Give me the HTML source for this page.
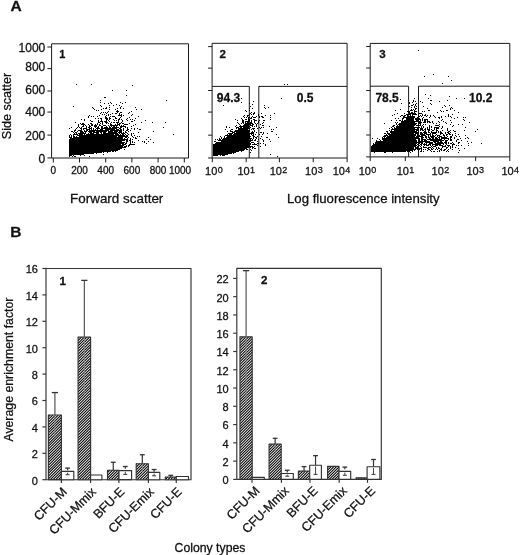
<!DOCTYPE html>
<html><head><meta charset="utf-8"><title>Figure</title>
<style>html,body{margin:0;padding:0;background:#fff;}body{width:520px;height:555px;overflow:hidden;font-family:"Liberation Sans",sans-serif;}</style>
</head><body>
<svg width="520" height="555" viewBox="0 0 520 555" style="display:block;will-change:transform;opacity:0.999"><g font-family="Liberation Sans, sans-serif" fill="#111" stroke="#111" stroke-width="0.28" stroke-linejoin="round">
<text x="10.40" y="11.20" font-size="15.5" text-anchor="start" font-weight="bold">A</text>
<text x="10.30" y="237.00" font-size="15.5" text-anchor="start" font-weight="bold">B</text>
<rect x="51.60" y="43.80" width="136.90" height="114.20" fill="none" stroke="#1a1a1a" stroke-width="1"/>
<line x1="47.40" y1="157.96" x2="51.60" y2="157.96" stroke="#1a1a1a" stroke-width="1"/>
<text x="45.30" y="162.85" font-size="12" text-anchor="end">0</text>
<line x1="47.40" y1="135.10" x2="51.60" y2="135.10" stroke="#1a1a1a" stroke-width="1"/>
<text x="45.30" y="139.65" font-size="12" text-anchor="end">200</text>
<line x1="47.40" y1="112.06" x2="51.60" y2="112.06" stroke="#1a1a1a" stroke-width="1"/>
<text x="45.30" y="116.45" font-size="12" text-anchor="end">400</text>
<line x1="47.40" y1="91.00" x2="51.60" y2="91.00" stroke="#1a1a1a" stroke-width="1"/>
<text x="45.30" y="94.35" font-size="12" text-anchor="end">600</text>
<line x1="47.40" y1="68.65" x2="51.60" y2="68.65" stroke="#1a1a1a" stroke-width="1"/>
<text x="45.30" y="71.25" font-size="12" text-anchor="end">800</text>
<line x1="47.40" y1="47.00" x2="51.60" y2="47.00" stroke="#1a1a1a" stroke-width="1"/>
<text x="45.30" y="51.65" font-size="12" text-anchor="end">1000</text>
<line x1="53.30" y1="158.00" x2="53.30" y2="162.50" stroke="#1a1a1a" stroke-width="1"/>
<text x="53.30" y="173.80" font-size="10" text-anchor="middle">0</text>
<line x1="79.50" y1="158.00" x2="79.50" y2="162.50" stroke="#1a1a1a" stroke-width="1"/>
<text x="79.50" y="173.80" font-size="10" text-anchor="middle">200</text>
<line x1="105.70" y1="158.00" x2="105.70" y2="162.50" stroke="#1a1a1a" stroke-width="1"/>
<text x="105.70" y="173.80" font-size="10" text-anchor="middle">400</text>
<line x1="131.90" y1="158.00" x2="131.90" y2="162.50" stroke="#1a1a1a" stroke-width="1"/>
<text x="131.90" y="173.80" font-size="10" text-anchor="middle">600</text>
<line x1="158.10" y1="158.00" x2="158.10" y2="162.50" stroke="#1a1a1a" stroke-width="1"/>
<text x="158.10" y="173.80" font-size="10" text-anchor="middle">800</text>
<line x1="184.30" y1="158.00" x2="184.30" y2="162.50" stroke="#1a1a1a" stroke-width="1"/>
<text x="180.00" y="173.80" font-size="10" text-anchor="middle">1000</text>
<text x="116.70" y="202.60" font-size="13" text-anchor="middle" textLength="93.3" lengthAdjust="spacingAndGlyphs">Forward scatter</text>
<text transform="translate(10.9,106) rotate(-90)" font-size="13" text-anchor="middle" textLength="66.5" lengthAdjust="spacingAndGlyphs">Side scatter</text>
<text x="59.30" y="57.80" font-size="11" text-anchor="start" font-weight="bold">1</text>
<path d="M76 84.5h1M91 84.5h1M132 85.5h1M112 90.5h1M126 90.5h1M126 95.5h1M104 97.5h2M100 100.5h1M166 100.5h1M100 102.5h1M110 102.5h1M120 102.5h1M125 102.5h1M104 103.5h1M108 103.5h1M111 103.5h1M122 103.5h1M116 104.5h1M100 105.5h1M109 105.5h1M113 105.5h1M119 105.5h1M73 106.5h1M101 106.5h1M121 106.5h1M92 107.5h1M106 107.5h1M109 107.5h1M120 107.5h1M135 107.5h1M93 108.5h1M103 108.5h1M105 108.5h2M117 108.5h1M120 108.5h1M123 108.5h1M94 109.5h1M101 109.5h1M109 109.5h1M115 109.5h1M136 109.5h1M141 109.5h1M96 110.5h1M98 110.5h1M117 110.5h1M108 111.5h1M116 111.5h3M131 111.5h1M101 112.5h1M103 112.5h1M105 112.5h1M107 112.5h1M117 112.5h1M120 112.5h2M129 112.5h1M100 113.5h1M106 113.5h1M112 113.5h1M115 113.5h2M119 113.5h1M128 113.5h1M102 114.5h1M104 114.5h1M108 114.5h1M110 114.5h1M119 114.5h1M121 114.5h1M132 114.5h1M89 115.5h1M99 115.5h1M106 115.5h1M108 115.5h1M118 115.5h4M123 115.5h1M131 115.5h1M88 116.5h1M91 116.5h1M93 116.5h1M97 116.5h1M105 116.5h1M110 116.5h1M112 116.5h3M121 116.5h1M138 116.5h1M88 117.5h1M105 117.5h2M109 117.5h1M115 117.5h1M120 117.5h1M129 117.5h1M95 118.5h1M98 118.5h1M100 118.5h2M105 118.5h3M109 118.5h2M115 118.5h2M119 118.5h1M127 118.5h1M135 118.5h1M81 119.5h1M84 119.5h1M101 119.5h1M106 119.5h2M109 119.5h1M113 119.5h1M118 119.5h2M121 119.5h1M126 119.5h1M130 119.5h1M132 119.5h1M84 120.5h1M90 120.5h1M98 120.5h1M101 120.5h1M106 120.5h1M108 120.5h1M114 120.5h1M116 120.5h1M118 120.5h1M122 120.5h1M127 120.5h1M134 120.5h1M145 120.5h1M91 121.5h2M98 121.5h1M100 121.5h3M104 121.5h3M109 121.5h1M118 121.5h1M122 121.5h1M131 121.5h2M75 122.5h1M98 122.5h2M102 122.5h1M105 122.5h3M111 122.5h1M113 122.5h2M116 122.5h3M121 122.5h1M141 122.5h1M152 122.5h1M165 122.5h1M80 123.5h1M82 123.5h2M90 123.5h2M97 123.5h1M100 123.5h1M102 123.5h1M106 123.5h1M108 123.5h1M110 123.5h1M117 123.5h1M119 123.5h2M122 123.5h2M129 123.5h1M78 124.5h1M81 124.5h4M88 124.5h1M91 124.5h2M95 124.5h1M97 124.5h1M99 124.5h1M102 124.5h1M110 124.5h2M115 124.5h1M117 124.5h3M124 124.5h4M135 124.5h1M78 125.5h1M83 125.5h1M85 125.5h1M89 125.5h1M91 125.5h2M94 125.5h3M99 125.5h2M103 125.5h3M108 125.5h1M110 125.5h8M119 125.5h1M121 125.5h1M123 125.5h1M133 125.5h1M78 126.5h1M82 126.5h2M86 126.5h1M89 126.5h2M94 126.5h3M98 126.5h1M101 126.5h2M106 126.5h1M109 126.5h1M111 126.5h1M113 126.5h2M116 126.5h1M120 126.5h6M131 126.5h1M71 127.5h1M77 127.5h1M79 127.5h1M81 127.5h1M86 127.5h1M88 127.5h2M91 127.5h1M95 127.5h1M97 127.5h2M101 127.5h2M104 127.5h4M109 127.5h2M112 127.5h7M120 127.5h2M125 127.5h1M127 127.5h1M163 127.5h1M69 128.5h1M76 128.5h1M80 128.5h2M83 128.5h4M89 128.5h3M93 128.5h1M96 128.5h4M101 128.5h16M119 128.5h2M123 128.5h1M127 128.5h1M131 128.5h1M134 128.5h1M137 128.5h1M75 129.5h1M81 129.5h1M83 129.5h1M86 129.5h4M91 129.5h1M93 129.5h1M95 129.5h1M97 129.5h1M100 129.5h3M105 129.5h10M116 129.5h3M120 129.5h2M123 129.5h1M127 129.5h2M134 129.5h1M139 129.5h2M74 130.5h2M78 130.5h4M84 130.5h1M86 130.5h2M89 130.5h20M110 130.5h12M123 130.5h1M126 130.5h2M130 130.5h1M71 131.5h2M74 131.5h1M77 131.5h1M80 131.5h3M84 131.5h3M88 131.5h7M96 131.5h11M108 131.5h5M114 131.5h4M119 131.5h3M125 131.5h1M128 131.5h1M153 131.5h1M73 132.5h1M75 132.5h2M80 132.5h4M85 132.5h1M89 132.5h3M93 132.5h6M100 132.5h2M103 132.5h3M108 132.5h9M118 132.5h4M123 132.5h1M125 132.5h2M138 132.5h1M74 133.5h1M76 133.5h1M78 133.5h8M88 133.5h1M90 133.5h4M96 133.5h3M101 133.5h1M103 133.5h15M119 133.5h1M121 133.5h4M127 133.5h1M131 133.5h1M133 133.5h1M70 134.5h1M73 134.5h5M79 134.5h4M84 134.5h1M86 134.5h28M115 134.5h4M120 134.5h1M122 134.5h2M125 134.5h1M128 134.5h1M131 134.5h1M173 134.5h1M69 135.5h1M71 135.5h1M73 135.5h1M77 135.5h48M126 135.5h2M131 135.5h1M134 135.5h1M69 136.5h1M71 136.5h1M73 136.5h2M76 136.5h1M79 136.5h38M118 136.5h10M132 136.5h1M137 136.5h1M139 136.5h1M69 137.5h3M73 137.5h50M125 137.5h2M128 137.5h1M133 137.5h1M135 137.5h1M148 137.5h1M70 138.5h53M124 138.5h1M127 138.5h1M130 138.5h1M135 138.5h2M69 139.5h59M130 139.5h1M132 139.5h1M146 139.5h1M150 139.5h1M69 140.5h56M126 140.5h2M129 140.5h2M138 140.5h1M69 141.5h53M126 141.5h2M130 141.5h1M132 141.5h1M142 141.5h1M144 141.5h1M148 141.5h1M69 142.5h56M126 142.5h1M130 142.5h1M132 142.5h1M134 142.5h1M144 142.5h1M153 142.5h1M69 143.5h55M125 143.5h2M130 143.5h1M146 143.5h1M69 144.5h52M122 144.5h4M129 144.5h6M69 145.5h55M126 145.5h1M128 145.5h2M69 146.5h54M124 146.5h3M128 146.5h1M69 147.5h57M69 148.5h53M69 149.5h51M124 149.5h1M69 150.5h49M69 151.5h42M112 151.5h2M115 151.5h1M69 152.5h33M103 152.5h1M107 152.5h1M69 153.5h25M96 153.5h1M69 154.5h15M103 154.5h1M69 155.5h3M73 155.5h1M80 155.5h1M84 155.5h1M69 156.5h1M72 156.5h1M74 156.5h2M89 156.5h1" stroke="#000" stroke-width="1" fill="none"/>
<rect x="212.10" y="43.30" width="135.00" height="114.70" fill="none" stroke="#1a1a1a" stroke-width="1"/>
<line x1="208.10" y1="46.60" x2="212.10" y2="46.60" stroke="#1a1a1a" stroke-width="1"/>
<line x1="208.10" y1="68.15" x2="212.10" y2="68.15" stroke="#1a1a1a" stroke-width="1"/>
<line x1="208.10" y1="90.50" x2="212.10" y2="90.50" stroke="#1a1a1a" stroke-width="1"/>
<line x1="208.10" y1="112.07" x2="212.10" y2="112.07" stroke="#1a1a1a" stroke-width="1"/>
<line x1="208.10" y1="135.16" x2="212.10" y2="135.16" stroke="#1a1a1a" stroke-width="1"/>
<line x1="208.10" y1="158.00" x2="212.10" y2="158.00" stroke="#1a1a1a" stroke-width="1"/>
<line x1="212.30" y1="158.00" x2="212.30" y2="162.20" stroke="#1a1a1a" stroke-width="1"/>
<text x="205.10" y="175.2" font-size="11">10<tspan font-size="9" dx="0.3" dy="-2.5">0</tspan></text>
<line x1="246.20" y1="158.00" x2="246.20" y2="162.20" stroke="#1a1a1a" stroke-width="1"/>
<text x="237.40" y="175.2" font-size="11">10<tspan font-size="9" dx="0.3" dy="-2.5">1</tspan></text>
<line x1="279.40" y1="158.00" x2="279.40" y2="162.20" stroke="#1a1a1a" stroke-width="1"/>
<text x="269.70" y="175.2" font-size="11">10<tspan font-size="9" dx="0.3" dy="-2.5">2</tspan></text>
<line x1="313.20" y1="158.00" x2="313.20" y2="162.20" stroke="#1a1a1a" stroke-width="1"/>
<text x="305.10" y="175.2" font-size="11">10<tspan font-size="9" dx="0.3" dy="-2.5">3</tspan></text>
<line x1="347.10" y1="158.00" x2="347.10" y2="162.20" stroke="#1a1a1a" stroke-width="1"/>
<text x="332.70" y="175.2" font-size="11">10<tspan font-size="9" dx="0.3" dy="-2.5">4</tspan></text>
<path d="M212.10 86.40H249.30V158.00" fill="none" stroke="#1a1a1a" stroke-width="1"/>
<path d="M258.80 158.00V86.40H347.10" fill="none" stroke="#1a1a1a" stroke-width="1"/>
<text x="219.60" y="57.90" font-size="11.5" text-anchor="start" font-weight="bold">2</text>
<text x="216.80" y="101.50" font-size="12" text-anchor="start" font-weight="bold">94.3</text>
<text x="296.80" y="101.50" font-size="12" text-anchor="start" font-weight="bold">0.5</text>
<rect x="370.20" y="43.40" width="139.60" height="113.50" fill="none" stroke="#1a1a1a" stroke-width="1"/>
<line x1="366.20" y1="46.50" x2="370.20" y2="46.50" stroke="#1a1a1a" stroke-width="1"/>
<line x1="366.20" y1="68.00" x2="370.20" y2="68.00" stroke="#1a1a1a" stroke-width="1"/>
<line x1="366.20" y1="90.50" x2="370.20" y2="90.50" stroke="#1a1a1a" stroke-width="1"/>
<line x1="366.20" y1="111.80" x2="370.20" y2="111.80" stroke="#1a1a1a" stroke-width="1"/>
<line x1="366.20" y1="135.00" x2="370.20" y2="135.00" stroke="#1a1a1a" stroke-width="1"/>
<line x1="366.20" y1="156.90" x2="370.20" y2="156.90" stroke="#1a1a1a" stroke-width="1"/>
<line x1="370.20" y1="156.90" x2="370.20" y2="161.10" stroke="#1a1a1a" stroke-width="1"/>
<text x="358.70" y="175.2" font-size="11">10<tspan font-size="9" dx="0.3" dy="-2.5">0</tspan></text>
<line x1="405.30" y1="156.90" x2="405.30" y2="161.10" stroke="#1a1a1a" stroke-width="1"/>
<text x="396.70" y="175.2" font-size="11">10<tspan font-size="9" dx="0.3" dy="-2.5">1</tspan></text>
<line x1="440.20" y1="156.90" x2="440.20" y2="161.10" stroke="#1a1a1a" stroke-width="1"/>
<text x="431.60" y="175.2" font-size="11">10<tspan font-size="9" dx="0.3" dy="-2.5">2</tspan></text>
<line x1="475.60" y1="156.90" x2="475.60" y2="161.10" stroke="#1a1a1a" stroke-width="1"/>
<text x="466.50" y="175.2" font-size="11">10<tspan font-size="9" dx="0.3" dy="-2.5">3</tspan></text>
<line x1="509.80" y1="156.90" x2="509.80" y2="161.10" stroke="#1a1a1a" stroke-width="1"/>
<text x="501.40" y="175.2" font-size="11">10<tspan font-size="9" dx="0.3" dy="-2.5">4</tspan></text>
<path d="M370.20 86.20H408.60V156.90" fill="none" stroke="#1a1a1a" stroke-width="1"/>
<path d="M418.50 156.90V86.20H509.80" fill="none" stroke="#1a1a1a" stroke-width="1"/>
<text x="379.30" y="57.90" font-size="11.5" text-anchor="start" font-weight="bold">3</text>
<text x="375.40" y="101.50" font-size="12" text-anchor="start" font-weight="bold">78.5</text>
<text x="469.00" y="101.50" font-size="12" text-anchor="start" font-weight="bold">10.2</text>
<text x="363.30" y="202.70" font-size="13" text-anchor="middle" textLength="152.6" lengthAdjust="spacingAndGlyphs">Log fluorescence intensity</text>
<path d="M284 84.5h1M287 84.5h1M259 86.5h1M238 98.5h1M241 98.5h1M281 98.5h1M253 101.5h1M241 102.5h1M249 103.5h1M252 104.5h1M223 105.5h1M264 105.5h1M250 106.5h1M264 107.5h1M268 107.5h1M249 108.5h1M252 108.5h1M265 108.5h1M245 110.5h1M249 110.5h1M246 111.5h1M251 112.5h1M254 112.5h1M250 113.5h1M253 113.5h2M261 113.5h1M274 113.5h1M249 114.5h1M251 114.5h1M253 114.5h1M258 114.5h1M244 115.5h1M247 115.5h2M258 115.5h1M265 115.5h1M270 115.5h1M243 116.5h1M247 116.5h1M252 116.5h1M256 116.5h1M259 116.5h1M261 116.5h2M244 117.5h1M246 117.5h1M248 117.5h2M251 117.5h1M253 117.5h3M259 117.5h1M262 117.5h2M270 117.5h1M241 118.5h1M248 118.5h1M250 118.5h2M235 119.5h1M242 119.5h1M245 119.5h2M248 119.5h2M253 119.5h2M270 119.5h1M237 120.5h1M242 120.5h2M248 120.5h2M251 120.5h1M254 120.5h3M259 120.5h1M263 120.5h2M242 121.5h2M245 121.5h5M251 121.5h1M254 121.5h1M258 121.5h1M237 122.5h1M242 122.5h2M245 122.5h1M247 122.5h2M250 122.5h2M254 122.5h1M258 122.5h1M263 122.5h1M238 123.5h1M241 123.5h1M243 123.5h1M245 123.5h8M255 123.5h1M257 123.5h1M262 123.5h1M239 124.5h1M244 124.5h7M252 124.5h2M256 124.5h1M260 124.5h1M236 125.5h1M240 125.5h1M243 125.5h6M250 125.5h3M256 125.5h1M262 125.5h2M226 126.5h1M235 126.5h1M239 126.5h11M252 126.5h1M254 126.5h1M256 126.5h1M269 126.5h1M226 127.5h1M229 127.5h1M236 127.5h3M240 127.5h2M243 127.5h6M250 127.5h1M259 127.5h1M261 127.5h1M263 127.5h1M276 127.5h1M236 128.5h1M238 128.5h12M252 128.5h3M257 128.5h1M260 128.5h1M225 129.5h1M231 129.5h2M238 129.5h10M251 129.5h1M253 129.5h1M271 129.5h1M273 129.5h1M230 130.5h1M235 130.5h15M254 130.5h1M227 131.5h1M230 131.5h3M234 131.5h16M252 131.5h1M254 131.5h1M271 131.5h2M232 132.5h3M236 132.5h13M251 132.5h3M256 132.5h1M260 132.5h2M263 132.5h1M228 133.5h5M234 133.5h20M263 133.5h1M267 133.5h1M227 134.5h1M229 134.5h3M233 134.5h17M251 134.5h1M253 134.5h1M255 134.5h1M259 134.5h1M262 134.5h1M276 134.5h1M225 135.5h25M252 135.5h2M220 136.5h1M224 136.5h1M227 136.5h24M253 136.5h2M257 136.5h1M261 136.5h1M221 137.5h1M224 137.5h1M226 137.5h24M253 137.5h1M255 137.5h2M266 137.5h2M278 137.5h1M219 138.5h1M221 138.5h1M223 138.5h29M253 138.5h1M256 138.5h1M260 138.5h1M215 139.5h1M217 139.5h1M219 139.5h2M222 139.5h27M250 139.5h1M252 139.5h1M255 139.5h1M258 139.5h1M262 139.5h1M269 139.5h1M218 140.5h35M254 140.5h2M263 140.5h1M214 141.5h2M221 141.5h30M257 141.5h1M263 141.5h1M270 141.5h1M216 142.5h34M251 142.5h3M215 143.5h36M254 143.5h1M257 143.5h2M260 143.5h1M263 143.5h1M213 144.5h38M252 144.5h5M265 144.5h1M213 145.5h37M257 145.5h1M265 145.5h1M213 146.5h40M254 146.5h1M260 146.5h1M213 147.5h36M250 147.5h1M252 147.5h2M213 148.5h34M252 148.5h1M254 148.5h2M213 149.5h32M246 149.5h2M250 149.5h1M213 150.5h31M251 150.5h1M213 151.5h26M241 151.5h1M213 152.5h23M250 152.5h1M213 153.5h19M233 153.5h1M213 154.5h15M270 154.5h1M213 155.5h5M220 155.5h1M222 155.5h3M277 156.5h1" stroke="#000" stroke-width="1" fill="none"/>
<path d="M418 50.5h1M433 74.5h1M424 76.5h1M448 76.5h1M451 80.5h1M442 83.5h1M425 94.5h1M430 95.5h1M449 96.5h1M414 98.5h1M428 98.5h1M456 98.5h1M464 98.5h1M400 99.5h1M408 100.5h1M413 100.5h1M430 100.5h2M447 100.5h1M413 101.5h1M415 101.5h1M420 101.5h1M439 101.5h1M409 102.5h1M412 102.5h1M422 102.5h1M401 103.5h1M409 103.5h1M416 103.5h1M430 103.5h1M413 104.5h1M415 104.5h1M431 104.5h1M411 105.5h2M415 105.5h1M444 105.5h1M449 105.5h1M409 106.5h1M414 106.5h1M416 106.5h1M423 106.5h1M445 106.5h1M411 107.5h1M414 107.5h1M442 107.5h1M451 107.5h1M415 108.5h2M427 108.5h1M450 108.5h1M452 108.5h1M400 109.5h1M411 109.5h1M413 109.5h1M415 109.5h1M450 109.5h1M395 110.5h1M410 110.5h3M414 110.5h1M428 110.5h2M440 110.5h1M446 110.5h2M454 110.5h1M407 111.5h3M414 111.5h3M422 111.5h1M424 111.5h1M441 111.5h1M443 111.5h1M408 112.5h2M411 112.5h2M414 112.5h1M437 112.5h1M458 112.5h1M397 113.5h1M404 113.5h1M409 113.5h7M419 113.5h3M394 114.5h1M406 114.5h5M412 114.5h5M422 114.5h1M425 114.5h1M448 114.5h1M452 114.5h1M392 115.5h1M401 115.5h2M404 115.5h2M407 115.5h1M410 115.5h1M412 115.5h1M418 115.5h1M420 115.5h1M422 115.5h1M424 115.5h2M427 115.5h1M430 115.5h1M433 115.5h1M448 115.5h1M400 116.5h1M403 116.5h2M407 116.5h8M418 116.5h2M421 116.5h1M426 116.5h1M430 116.5h1M434 116.5h1M441 116.5h1M445 116.5h1M448 116.5h1M450 116.5h1M403 117.5h12M417 117.5h1M423 117.5h1M429 117.5h1M435 117.5h1M438 117.5h2M441 117.5h1M451 117.5h1M457 117.5h1M463 117.5h1M465 117.5h1M395 118.5h1M398 118.5h1M402 118.5h2M406 118.5h8M415 118.5h5M422 118.5h1M439 118.5h1M454 118.5h1M402 119.5h1M406 119.5h8M415 119.5h6M422 119.5h1M424 119.5h4M442 119.5h1M463 119.5h1M391 120.5h1M396 120.5h1M399 120.5h2M402 120.5h1M404 120.5h10M416 120.5h2M420 120.5h1M422 120.5h1M424 120.5h2M427 120.5h1M441 120.5h1M450 120.5h1M464 120.5h1M401 121.5h20M424 121.5h2M427 121.5h3M432 121.5h1M438 121.5h1M443 121.5h1M395 122.5h1M397 122.5h1M401 122.5h14M418 122.5h4M423 122.5h3M427 122.5h1M429 122.5h2M432 122.5h1M439 122.5h1M445 122.5h1M451 122.5h1M469 122.5h1M384 123.5h1M396 123.5h1M399 123.5h18M419 123.5h2M433 123.5h1M436 123.5h1M446 123.5h1M396 124.5h1M398 124.5h18M418 124.5h1M420 124.5h1M423 124.5h1M425 124.5h1M439 124.5h1M450 124.5h1M458 124.5h1M462 124.5h1M393 125.5h2M397 125.5h1M399 125.5h16M416 125.5h5M422 125.5h1M429 125.5h1M435 125.5h4M453 125.5h1M392 126.5h2M396 126.5h18M421 126.5h1M423 126.5h1M429 126.5h1M431 126.5h1M439 126.5h1M442 126.5h1M452 126.5h1M391 127.5h1M394 127.5h1M396 127.5h24M421 127.5h1M423 127.5h1M427 127.5h1M429 127.5h1M431 127.5h1M434 127.5h5M442 127.5h1M465 127.5h1M389 128.5h1M392 128.5h1M394 128.5h21M417 128.5h2M420 128.5h3M425 128.5h1M427 128.5h1M429 128.5h1M434 128.5h1M436 128.5h3M441 128.5h1M447 128.5h1M391 129.5h28M420 129.5h3M424 129.5h2M427 129.5h3M431 129.5h1M434 129.5h1M436 129.5h1M447 129.5h1M477 129.5h1M389 130.5h1M391 130.5h1M394 130.5h21M416 130.5h3M420 130.5h1M422 130.5h2M425 130.5h1M428 130.5h2M432 130.5h2M436 130.5h2M442 130.5h1M447 130.5h1M450 130.5h1M453 130.5h1M464 130.5h1M386 131.5h2M390 131.5h27M418 131.5h1M424 131.5h2M428 131.5h1M431 131.5h1M436 131.5h1M438 131.5h1M440 131.5h1M448 131.5h2M454 131.5h2M475 131.5h1M387 132.5h1M390 132.5h29M420 132.5h2M423 132.5h4M428 132.5h2M431 132.5h6M438 132.5h1M440 132.5h2M445 132.5h1M447 132.5h2M450 132.5h1M384 133.5h2M387 133.5h3M391 133.5h23M415 133.5h3M420 133.5h3M424 133.5h3M430 133.5h1M432 133.5h4M440 133.5h3M445 133.5h1M448 133.5h2M455 133.5h1M386 134.5h1M388 134.5h28M417 134.5h1M420 134.5h5M426 134.5h5M432 134.5h1M436 134.5h1M440 134.5h1M443 134.5h1M446 134.5h2M449 134.5h2M452 134.5h1M458 134.5h1M384 135.5h4M389 135.5h27M417 135.5h3M421 135.5h5M428 135.5h1M430 135.5h1M432 135.5h2M435 135.5h1M437 135.5h3M443 135.5h2M446 135.5h1M452 135.5h1M455 135.5h1M465 135.5h1M383 136.5h3M387 136.5h28M416 136.5h7M425 136.5h2M428 136.5h1M430 136.5h5M437 136.5h1M439 136.5h3M444 136.5h1M447 136.5h1M450 136.5h2M456 136.5h1M459 136.5h1M382 137.5h1M384 137.5h1M386 137.5h33M421 137.5h3M425 137.5h2M428 137.5h2M431 137.5h3M435 137.5h2M438 137.5h2M441 137.5h6M450 137.5h2M454 137.5h1M467 137.5h1M372 138.5h1M377 138.5h1M382 138.5h38M421 138.5h2M426 138.5h1M429 138.5h2M432 138.5h2M435 138.5h3M439 138.5h1M441 138.5h8M450 138.5h1M454 138.5h1M460 138.5h1M465 138.5h1M468 138.5h1M379 139.5h1M382 139.5h34M418 139.5h2M421 139.5h5M427 139.5h15M444 139.5h1M448 139.5h1M450 139.5h2M457 139.5h2M376 140.5h1M380 140.5h1M383 140.5h34M418 140.5h2M421 140.5h2M424 140.5h3M430 140.5h14M445 140.5h3M450 140.5h2M456 140.5h1M461 140.5h1M376 141.5h41M418 141.5h12M433 141.5h6M440 141.5h2M445 141.5h2M456 141.5h1M467 141.5h1M375 142.5h48M425 142.5h8M434 142.5h2M437 142.5h6M444 142.5h3M448 142.5h1M452 142.5h1M458 142.5h2M471 142.5h1M373 143.5h1M375 143.5h42M418 143.5h2M421 143.5h2M424 143.5h1M426 143.5h1M429 143.5h4M435 143.5h9M445 143.5h2M448 143.5h1M450 143.5h2M453 143.5h1M458 143.5h1M468 143.5h1M481 143.5h1M373 144.5h43M417 144.5h2M420 144.5h2M423 144.5h4M428 144.5h3M432 144.5h9M443 144.5h1M446 144.5h1M452 144.5h3M372 145.5h45M418 145.5h2M421 145.5h1M424 145.5h1M426 145.5h3M430 145.5h1M432 145.5h1M435 145.5h3M439 145.5h4M445 145.5h1M447 145.5h3M452 145.5h1M456 145.5h1M458 145.5h1M461 145.5h1M468 145.5h1M371 146.5h45M417 146.5h2M420 146.5h1M423 146.5h1M431 146.5h1M433 146.5h3M442 146.5h4M448 146.5h1M450 146.5h1M452 146.5h1M371 147.5h43M415 147.5h3M421 147.5h1M423 147.5h4M428 147.5h3M432 147.5h1M436 147.5h1M438 147.5h1M442 147.5h1M446 147.5h2M450 147.5h1M452 147.5h1M455 147.5h1M371 148.5h43M415 148.5h3M419 148.5h3M427 148.5h2M431 148.5h1M433 148.5h1M436 148.5h1M438 148.5h2M441 148.5h1M446 148.5h1M450 148.5h1M458 148.5h1M464 148.5h1M371 149.5h45M417 149.5h1M419 149.5h1M421 149.5h1M423 149.5h1M425 149.5h1M428 149.5h2M431 149.5h2M435 149.5h1M437 149.5h1M440 149.5h2M444 149.5h2M448 149.5h1M452 149.5h1M371 150.5h42M414 150.5h1M418 150.5h1M421 150.5h1M427 150.5h1M430 150.5h1M439 150.5h1M441 150.5h1M443 150.5h2M447 150.5h1M459 150.5h1M371 151.5h35M407 151.5h3M412 151.5h1M420 151.5h2M423 151.5h1M431 151.5h1M433 151.5h2M437 151.5h1M439 151.5h1M446 151.5h1M448 151.5h1M374 152.5h1M384 152.5h2M392 152.5h1M410 152.5h1M458 152.5h1" stroke="#000" stroke-width="1" fill="none"/>
<defs><pattern id="h" patternUnits="userSpaceOnUse" width="1.9" height="1.9" patternTransform="rotate(-45)"><rect x="0" y="0" width="1.9" height="1.0" fill="#000" shape-rendering="crispEdges"/></pattern></defs>
<rect x="46.00" y="268.50" width="145.00" height="211.20" fill="none" stroke="#333" stroke-width="1.15"/>
<line x1="42.40" y1="479.70" x2="46.00" y2="479.70" stroke="#333" stroke-width="1.15"/>
<text x="37.90" y="484.60" font-size="11" text-anchor="end">0</text>
<line x1="42.40" y1="453.30" x2="46.00" y2="453.30" stroke="#333" stroke-width="1.15"/>
<text x="37.90" y="458.20" font-size="11" text-anchor="end">2</text>
<line x1="42.40" y1="426.90" x2="46.00" y2="426.90" stroke="#333" stroke-width="1.15"/>
<text x="37.90" y="431.80" font-size="11" text-anchor="end">4</text>
<line x1="42.40" y1="400.50" x2="46.00" y2="400.50" stroke="#333" stroke-width="1.15"/>
<text x="37.90" y="405.40" font-size="11" text-anchor="end">6</text>
<line x1="42.40" y1="374.10" x2="46.00" y2="374.10" stroke="#333" stroke-width="1.15"/>
<text x="37.90" y="379.00" font-size="11" text-anchor="end">8</text>
<line x1="42.40" y1="347.70" x2="46.00" y2="347.70" stroke="#333" stroke-width="1.15"/>
<text x="37.90" y="352.60" font-size="11" text-anchor="end">10</text>
<line x1="42.40" y1="321.30" x2="46.00" y2="321.30" stroke="#333" stroke-width="1.15"/>
<text x="37.90" y="326.20" font-size="11" text-anchor="end">12</text>
<line x1="42.40" y1="294.90" x2="46.00" y2="294.90" stroke="#333" stroke-width="1.15"/>
<text x="37.90" y="299.80" font-size="11" text-anchor="end">14</text>
<line x1="42.40" y1="268.50" x2="46.00" y2="268.50" stroke="#333" stroke-width="1.15"/>
<text x="37.90" y="273.40" font-size="11" text-anchor="end">16</text>
<line x1="61.40" y1="479.70" x2="61.40" y2="483.10" stroke="#333" stroke-width="1.15"/>
<line x1="90.60" y1="479.70" x2="90.60" y2="483.10" stroke="#333" stroke-width="1.15"/>
<line x1="118.90" y1="479.70" x2="118.90" y2="483.10" stroke="#333" stroke-width="1.15"/>
<line x1="148.40" y1="479.70" x2="148.40" y2="483.10" stroke="#333" stroke-width="1.15"/>
<line x1="176.25" y1="479.70" x2="176.25" y2="483.10" stroke="#333" stroke-width="1.15"/>
<text x="59.60" y="284.70" font-size="11.5" text-anchor="start" font-weight="bold">1</text>
<rect x="48.40" y="415.02" width="13.00" height="64.68" fill="#fff" stroke="none"/>
<path d="M48.40 416.78L50.16 415.02M48.40 419.48L52.86 415.02M48.40 422.18L55.56 415.02M48.40 424.88L58.26 415.02M48.40 427.58L60.96 415.02M48.40 430.28L61.40 417.28M48.40 432.98L61.40 419.98M48.40 435.68L61.40 422.68M48.40 438.38L61.40 425.38M48.40 441.08L61.40 428.08M48.40 443.78L61.40 430.78M48.40 446.48L61.40 433.48M48.40 449.18L61.40 436.18M48.40 451.88L61.40 438.88M48.40 454.58L61.40 441.58M48.40 457.28L61.40 444.28M48.40 459.98L61.40 446.98M48.40 462.68L61.40 449.68M48.40 465.38L61.40 452.38M48.40 468.08L61.40 455.08M48.40 470.78L61.40 457.78M48.40 473.48L61.40 460.48M48.40 476.18L61.40 463.18M48.40 478.88L61.40 465.88M50.28 479.70L61.40 468.58M52.98 479.70L61.40 471.28M55.68 479.70L61.40 473.98M58.38 479.70L61.40 476.68M61.08 479.70L61.40 479.38" stroke="#000" stroke-width="1.05" fill="none"/>
<rect x="48.40" y="415.02" width="13.00" height="64.68" fill="none" stroke="#333" stroke-width="1.15"/>
<line x1="54.90" y1="415.02" x2="54.90" y2="392.58" stroke="#555" stroke-width="1.2"/>
<line x1="51.80" y1="392.58" x2="58.00" y2="392.58" stroke="#333" stroke-width="1.3"/>
<line x1="54.90" y1="415.02" x2="54.90" y2="437.46" stroke="#888" stroke-width="0.9"/>
<rect x="61.40" y="471.38" width="12.40" height="8.32" fill="#fff" stroke="none"/>
<rect x="61.40" y="471.38" width="12.40" height="8.32" fill="none" stroke="#333" stroke-width="1.15"/>
<line x1="67.60" y1="470.28" x2="67.60" y2="468.08" stroke="#333" stroke-width="1.2"/>
<line x1="65.20" y1="468.08" x2="70.00" y2="468.08" stroke="#333" stroke-width="1.3"/>
<line x1="67.60" y1="472.58" x2="67.60" y2="474.68" stroke="#444" stroke-width="1.0"/>
<line x1="65.60" y1="474.68" x2="69.60" y2="474.68" stroke="#444" stroke-width="1.1"/>
<rect x="78.10" y="337.14" width="12.50" height="142.56" fill="#fff" stroke="none"/>
<path d="M78.10 337.86L78.82 337.14M78.10 340.56L81.52 337.14M78.10 343.26L84.22 337.14M78.10 345.96L86.92 337.14M78.10 348.66L89.62 337.14M78.10 351.36L90.60 338.86M78.10 354.06L90.60 341.56M78.10 356.76L90.60 344.26M78.10 359.46L90.60 346.96M78.10 362.16L90.60 349.66M78.10 364.86L90.60 352.36M78.10 367.56L90.60 355.06M78.10 370.26L90.60 357.76M78.10 372.96L90.60 360.46M78.10 375.66L90.60 363.16M78.10 378.36L90.60 365.86M78.10 381.06L90.60 368.56M78.10 383.76L90.60 371.26M78.10 386.46L90.60 373.96M78.10 389.16L90.60 376.66M78.10 391.86L90.60 379.36M78.10 394.56L90.60 382.06M78.10 397.26L90.60 384.76M78.10 399.96L90.60 387.46M78.10 402.66L90.60 390.16M78.10 405.36L90.60 392.86M78.10 408.06L90.60 395.56M78.10 410.76L90.60 398.26M78.10 413.46L90.60 400.96M78.10 416.16L90.60 403.66M78.10 418.86L90.60 406.36M78.10 421.56L90.60 409.06M78.10 424.26L90.60 411.76M78.10 426.96L90.60 414.46M78.10 429.66L90.60 417.16M78.10 432.36L90.60 419.86M78.10 435.06L90.60 422.56M78.10 437.76L90.60 425.26M78.10 440.46L90.60 427.96M78.10 443.16L90.60 430.66M78.10 445.86L90.60 433.36M78.10 448.56L90.60 436.06M78.10 451.26L90.60 438.76M78.10 453.96L90.60 441.46M78.10 456.66L90.60 444.16M78.10 459.36L90.60 446.86M78.10 462.06L90.60 449.56M78.10 464.76L90.60 452.26M78.10 467.46L90.60 454.96M78.10 470.16L90.60 457.66M78.10 472.86L90.60 460.36M78.10 475.56L90.60 463.06M78.10 478.26L90.60 465.76M79.36 479.70L90.60 468.46M82.06 479.70L90.60 471.16M84.76 479.70L90.60 473.86M87.46 479.70L90.60 476.56M90.16 479.70L90.60 479.26" stroke="#000" stroke-width="1.05" fill="none"/>
<rect x="78.10" y="337.14" width="12.50" height="142.56" fill="none" stroke="#333" stroke-width="1.15"/>
<line x1="84.35" y1="337.14" x2="84.35" y2="280.38" stroke="#555" stroke-width="1.2"/>
<line x1="81.25" y1="280.38" x2="87.45" y2="280.38" stroke="#333" stroke-width="1.3"/>
<line x1="84.35" y1="337.14" x2="84.35" y2="393.90" stroke="#888" stroke-width="0.9"/>
<rect x="90.60" y="474.95" width="11.30" height="4.75" fill="#fff" stroke="none"/>
<rect x="90.60" y="474.95" width="11.30" height="4.75" fill="none" stroke="#333" stroke-width="1.15"/>
<rect x="107.50" y="470.20" width="11.50" height="9.50" fill="#fff" stroke="none"/>
<path d="M107.50 472.64L109.94 470.20M107.50 475.34L112.64 470.20M107.50 478.04L115.34 470.20M108.54 479.70L118.04 470.20M111.24 479.70L119.00 471.94M113.94 479.70L119.00 474.64M116.64 479.70L119.00 477.34" stroke="#000" stroke-width="1.05" fill="none"/>
<rect x="107.50" y="470.20" width="11.50" height="9.50" fill="none" stroke="#333" stroke-width="1.15"/>
<line x1="113.25" y1="470.20" x2="113.25" y2="462.28" stroke="#333" stroke-width="1.2"/>
<line x1="110.85" y1="462.28" x2="115.65" y2="462.28" stroke="#333" stroke-width="1.3"/>
<rect x="119.00" y="470.59" width="12.60" height="9.11" fill="#fff" stroke="none"/>
<rect x="119.00" y="470.59" width="12.60" height="9.11" fill="none" stroke="#333" stroke-width="1.15"/>
<line x1="125.30" y1="468.70" x2="125.30" y2="466.50" stroke="#333" stroke-width="1.2"/>
<line x1="122.90" y1="466.50" x2="127.70" y2="466.50" stroke="#333" stroke-width="1.3"/>
<line x1="125.30" y1="471.79" x2="125.30" y2="474.42" stroke="#444" stroke-width="1.0"/>
<line x1="123.30" y1="474.42" x2="127.30" y2="474.42" stroke="#444" stroke-width="1.1"/>
<rect x="136.20" y="463.73" width="12.20" height="15.97" fill="#fff" stroke="none"/>
<path d="M136.20 464.44L136.91 463.73M136.20 467.14L139.61 463.73M136.20 469.84L142.31 463.73M136.20 472.54L145.01 463.73M136.20 475.24L147.71 463.73M136.20 477.94L148.40 465.74M137.14 479.70L148.40 468.44M139.84 479.70L148.40 471.14M142.54 479.70L148.40 473.84M145.24 479.70L148.40 476.54M147.94 479.70L148.40 479.24" stroke="#000" stroke-width="1.05" fill="none"/>
<rect x="136.20" y="463.73" width="12.20" height="15.97" fill="none" stroke="#333" stroke-width="1.15"/>
<line x1="142.30" y1="463.73" x2="142.30" y2="454.75" stroke="#333" stroke-width="1.2"/>
<line x1="139.90" y1="454.75" x2="144.70" y2="454.75" stroke="#333" stroke-width="1.3"/>
<line x1="142.30" y1="463.73" x2="142.30" y2="471.78" stroke="#888" stroke-width="0.9"/>
<rect x="148.40" y="472.44" width="11.40" height="7.26" fill="#fff" stroke="none"/>
<rect x="148.40" y="472.44" width="11.40" height="7.26" fill="none" stroke="#333" stroke-width="1.15"/>
<line x1="154.10" y1="471.74" x2="154.10" y2="469.54" stroke="#333" stroke-width="1.2"/>
<line x1="151.70" y1="469.54" x2="156.50" y2="469.54" stroke="#333" stroke-width="1.3"/>
<line x1="154.10" y1="473.64" x2="154.10" y2="475.74" stroke="#444" stroke-width="1.0"/>
<line x1="152.10" y1="475.74" x2="156.10" y2="475.74" stroke="#444" stroke-width="1.1"/>
<rect x="165.30" y="477.19" width="10.95" height="2.51" fill="#fff" stroke="none"/>
<path d="M165.30 479.60L167.70 477.19M167.90 479.70L170.40 477.19M170.60 479.70L173.10 477.19M173.30 479.70L175.80 477.19M176.00 479.70L176.25 479.45" stroke="#000" stroke-width="1.05" fill="none"/>
<rect x="165.30" y="477.19" width="10.95" height="2.51" fill="none" stroke="#333" stroke-width="1.15"/>
<line x1="170.78" y1="477.19" x2="170.78" y2="475.34" stroke="#333" stroke-width="1.2"/>
<line x1="168.38" y1="475.34" x2="173.18" y2="475.34" stroke="#333" stroke-width="1.3"/>
<rect x="176.25" y="476.53" width="12.25" height="3.17" fill="#fff" stroke="none"/>
<rect x="176.25" y="476.53" width="12.25" height="3.17" fill="none" stroke="#333" stroke-width="1.15"/>
<rect x="236.80" y="268.30" width="144.50" height="211.10" fill="none" stroke="#333" stroke-width="1.15"/>
<line x1="233.20" y1="479.40" x2="236.80" y2="479.40" stroke="#333" stroke-width="1.15"/>
<text x="228.70" y="484.30" font-size="11" text-anchor="end">0</text>
<line x1="233.20" y1="461.13" x2="236.80" y2="461.13" stroke="#333" stroke-width="1.15"/>
<text x="228.70" y="466.03" font-size="11" text-anchor="end">2</text>
<line x1="233.20" y1="442.86" x2="236.80" y2="442.86" stroke="#333" stroke-width="1.15"/>
<text x="228.70" y="447.76" font-size="11" text-anchor="end">4</text>
<line x1="233.20" y1="424.58" x2="236.80" y2="424.58" stroke="#333" stroke-width="1.15"/>
<text x="228.70" y="429.48" font-size="11" text-anchor="end">6</text>
<line x1="233.20" y1="406.31" x2="236.80" y2="406.31" stroke="#333" stroke-width="1.15"/>
<text x="228.70" y="411.21" font-size="11" text-anchor="end">8</text>
<line x1="233.20" y1="388.04" x2="236.80" y2="388.04" stroke="#333" stroke-width="1.15"/>
<text x="228.70" y="392.94" font-size="11" text-anchor="end">10</text>
<line x1="233.20" y1="369.77" x2="236.80" y2="369.77" stroke="#333" stroke-width="1.15"/>
<text x="228.70" y="374.67" font-size="11" text-anchor="end">12</text>
<line x1="233.20" y1="351.50" x2="236.80" y2="351.50" stroke="#333" stroke-width="1.15"/>
<text x="228.70" y="356.40" font-size="11" text-anchor="end">14</text>
<line x1="233.20" y1="333.22" x2="236.80" y2="333.22" stroke="#333" stroke-width="1.15"/>
<text x="228.70" y="338.12" font-size="11" text-anchor="end">16</text>
<line x1="233.20" y1="314.95" x2="236.80" y2="314.95" stroke="#333" stroke-width="1.15"/>
<text x="228.70" y="319.85" font-size="11" text-anchor="end">18</text>
<line x1="233.20" y1="296.68" x2="236.80" y2="296.68" stroke="#333" stroke-width="1.15"/>
<text x="228.70" y="301.58" font-size="11" text-anchor="end">20</text>
<line x1="233.20" y1="278.41" x2="236.80" y2="278.41" stroke="#333" stroke-width="1.15"/>
<text x="228.70" y="283.31" font-size="11" text-anchor="end">22</text>
<line x1="252.00" y1="479.40" x2="252.00" y2="482.80" stroke="#333" stroke-width="1.15"/>
<line x1="281.40" y1="479.40" x2="281.40" y2="482.80" stroke="#333" stroke-width="1.15"/>
<line x1="310.00" y1="479.40" x2="310.00" y2="482.80" stroke="#333" stroke-width="1.15"/>
<line x1="339.20" y1="479.40" x2="339.20" y2="482.80" stroke="#333" stroke-width="1.15"/>
<line x1="367.50" y1="479.40" x2="367.50" y2="482.80" stroke="#333" stroke-width="1.15"/>
<text x="261.00" y="284.30" font-size="11.5" text-anchor="start" font-weight="bold">2</text>
<rect x="240.00" y="336.88" width="12.20" height="142.52" fill="#fff" stroke="none"/>
<path d="M240.00 337.42L240.54 336.88M240.00 340.12L243.24 336.88M240.00 342.82L245.94 336.88M240.00 345.52L248.64 336.88M240.00 348.22L251.34 336.88M240.00 350.92L252.20 338.72M240.00 353.62L252.20 341.42M240.00 356.32L252.20 344.12M240.00 359.02L252.20 346.82M240.00 361.72L252.20 349.52M240.00 364.42L252.20 352.22M240.00 367.12L252.20 354.92M240.00 369.82L252.20 357.62M240.00 372.52L252.20 360.32M240.00 375.22L252.20 363.02M240.00 377.92L252.20 365.72M240.00 380.62L252.20 368.42M240.00 383.32L252.20 371.12M240.00 386.02L252.20 373.82M240.00 388.72L252.20 376.52M240.00 391.42L252.20 379.22M240.00 394.12L252.20 381.92M240.00 396.82L252.20 384.62M240.00 399.52L252.20 387.32M240.00 402.22L252.20 390.02M240.00 404.92L252.20 392.72M240.00 407.62L252.20 395.42M240.00 410.32L252.20 398.12M240.00 413.02L252.20 400.82M240.00 415.72L252.20 403.52M240.00 418.42L252.20 406.22M240.00 421.12L252.20 408.92M240.00 423.82L252.20 411.62M240.00 426.52L252.20 414.32M240.00 429.22L252.20 417.02M240.00 431.92L252.20 419.72M240.00 434.62L252.20 422.42M240.00 437.32L252.20 425.12M240.00 440.02L252.20 427.82M240.00 442.72L252.20 430.52M240.00 445.42L252.20 433.22M240.00 448.12L252.20 435.92M240.00 450.82L252.20 438.62M240.00 453.52L252.20 441.32M240.00 456.22L252.20 444.02M240.00 458.92L252.20 446.72M240.00 461.62L252.20 449.42M240.00 464.32L252.20 452.12M240.00 467.02L252.20 454.82M240.00 469.72L252.20 457.52M240.00 472.42L252.20 460.22M240.00 475.12L252.20 462.92M240.00 477.82L252.20 465.62M241.12 479.40L252.20 468.32M243.82 479.40L252.20 471.02M246.52 479.40L252.20 473.72M249.22 479.40L252.20 476.42M251.92 479.40L252.20 479.12" stroke="#000" stroke-width="1.05" fill="none"/>
<rect x="240.00" y="336.88" width="12.20" height="142.52" fill="none" stroke="#333" stroke-width="1.15"/>
<line x1="246.10" y1="336.88" x2="246.10" y2="270.64" stroke="#555" stroke-width="1.2"/>
<line x1="243.00" y1="270.64" x2="249.20" y2="270.64" stroke="#333" stroke-width="1.3"/>
<line x1="246.10" y1="336.88" x2="246.10" y2="403.57" stroke="#888" stroke-width="0.9"/>
<rect x="252.20" y="477.39" width="12.10" height="2.01" fill="#fff" stroke="none"/>
<rect x="252.20" y="477.39" width="12.10" height="2.01" fill="none" stroke="#333" stroke-width="1.15"/>
<rect x="269.10" y="444.14" width="12.10" height="35.26" fill="#fff" stroke="none"/>
<path d="M269.10 444.68L269.65 444.14M269.10 447.38L272.35 444.14M269.10 450.08L275.05 444.14M269.10 452.78L277.75 444.14M269.10 455.48L280.45 444.14M269.10 458.18L281.20 446.08M269.10 460.88L281.20 448.78M269.10 463.58L281.20 451.48M269.10 466.28L281.20 454.18M269.10 468.98L281.20 456.88M269.10 471.68L281.20 459.58M269.10 474.38L281.20 462.28M269.10 477.08L281.20 464.98M269.48 479.40L281.20 467.68M272.18 479.40L281.20 470.38M274.88 479.40L281.20 473.08M277.58 479.40L281.20 475.78M280.28 479.40L281.20 478.48" stroke="#000" stroke-width="1.05" fill="none"/>
<rect x="269.10" y="444.14" width="12.10" height="35.26" fill="none" stroke="#333" stroke-width="1.15"/>
<line x1="275.15" y1="444.14" x2="275.15" y2="438.29" stroke="#333" stroke-width="1.2"/>
<line x1="272.75" y1="438.29" x2="277.55" y2="438.29" stroke="#333" stroke-width="1.3"/>
<line x1="275.15" y1="444.14" x2="275.15" y2="451.99" stroke="#888" stroke-width="0.9"/>
<rect x="281.20" y="473.46" width="12.10" height="5.94" fill="#fff" stroke="none"/>
<rect x="281.20" y="473.46" width="12.10" height="5.94" fill="none" stroke="#333" stroke-width="1.15"/>
<line x1="287.25" y1="472.46" x2="287.25" y2="470.26" stroke="#333" stroke-width="1.2"/>
<line x1="284.85" y1="470.26" x2="289.65" y2="470.26" stroke="#333" stroke-width="1.3"/>
<line x1="287.25" y1="474.66" x2="287.25" y2="476.20" stroke="#444" stroke-width="1.0"/>
<line x1="285.25" y1="476.20" x2="289.25" y2="476.20" stroke="#444" stroke-width="1.1"/>
<rect x="298.40" y="471.18" width="11.30" height="8.22" fill="#fff" stroke="none"/>
<path d="M298.40 472.85L300.07 471.18M298.40 475.55L302.77 471.18M298.40 478.25L305.47 471.18M299.95 479.40L308.17 471.18M302.65 479.40L309.70 472.35M305.35 479.40L309.70 475.05M308.05 479.40L309.70 477.75" stroke="#000" stroke-width="1.05" fill="none"/>
<rect x="298.40" y="471.18" width="11.30" height="8.22" fill="none" stroke="#333" stroke-width="1.15"/>
<line x1="304.05" y1="471.18" x2="304.05" y2="466.61" stroke="#333" stroke-width="1.2"/>
<line x1="301.65" y1="466.61" x2="306.45" y2="466.61" stroke="#333" stroke-width="1.3"/>
<rect x="309.70" y="465.24" width="11.70" height="14.16" fill="#fff" stroke="none"/>
<rect x="309.70" y="465.24" width="11.70" height="14.16" fill="none" stroke="#333" stroke-width="1.15"/>
<line x1="315.55" y1="465.24" x2="315.55" y2="455.65" stroke="#333" stroke-width="1.2"/>
<line x1="313.15" y1="455.65" x2="317.95" y2="455.65" stroke="#333" stroke-width="1.3"/>
<line x1="315.55" y1="466.44" x2="315.55" y2="474.38" stroke="#444" stroke-width="1.0"/>
<line x1="313.55" y1="474.38" x2="317.55" y2="474.38" stroke="#444" stroke-width="1.1"/>
<rect x="327.60" y="466.43" width="11.40" height="12.97" fill="#fff" stroke="none"/>
<path d="M327.60 467.54L328.71 466.43M327.60 470.24L331.41 466.43M327.60 472.94L334.11 466.43M327.60 475.64L336.81 466.43M327.60 478.34L339.00 466.94M329.24 479.40L339.00 469.64M331.94 479.40L339.00 472.34M334.64 479.40L339.00 475.04M337.34 479.40L339.00 477.74" stroke="#000" stroke-width="1.05" fill="none"/>
<rect x="327.60" y="466.43" width="11.40" height="12.97" fill="none" stroke="#333" stroke-width="1.15"/>
<rect x="339.00" y="471.36" width="11.70" height="8.04" fill="#fff" stroke="none"/>
<rect x="339.00" y="471.36" width="11.70" height="8.04" fill="none" stroke="#333" stroke-width="1.15"/>
<line x1="344.85" y1="469.27" x2="344.85" y2="467.07" stroke="#333" stroke-width="1.2"/>
<line x1="342.45" y1="467.07" x2="347.25" y2="467.07" stroke="#333" stroke-width="1.3"/>
<line x1="344.85" y1="472.56" x2="344.85" y2="475.29" stroke="#444" stroke-width="1.0"/>
<line x1="342.85" y1="475.29" x2="346.85" y2="475.29" stroke="#444" stroke-width="1.1"/>
<rect x="356.10" y="477.85" width="11.00" height="1.55" fill="#fff" stroke="none"/>
<path d="M356.10 478.45L356.70 477.85M357.85 479.40L359.40 477.85M360.55 479.40L362.10 477.85M363.25 479.40L364.80 477.85M365.95 479.40L367.10 478.25" stroke="#000" stroke-width="1.05" fill="none"/>
<rect x="356.10" y="477.85" width="11.00" height="1.55" fill="none" stroke="#333" stroke-width="1.15"/>
<rect x="367.10" y="466.79" width="12.80" height="12.61" fill="#fff" stroke="none"/>
<rect x="367.10" y="466.79" width="12.80" height="12.61" fill="none" stroke="#333" stroke-width="1.15"/>
<line x1="373.50" y1="466.79" x2="373.50" y2="459.48" stroke="#333" stroke-width="1.2"/>
<line x1="371.10" y1="459.48" x2="375.90" y2="459.48" stroke="#333" stroke-width="1.3"/>
<line x1="373.50" y1="467.99" x2="373.50" y2="474.38" stroke="#444" stroke-width="1.0"/>
<line x1="371.50" y1="474.38" x2="375.50" y2="474.38" stroke="#444" stroke-width="1.1"/>
<text transform="translate(13.2,369.6) rotate(-90)" font-size="12.5" text-anchor="middle" textLength="144" lengthAdjust="spacingAndGlyphs">Average enrichment factor</text>
<text x="210.00" y="552.00" font-size="12" text-anchor="middle" textLength="70.8" lengthAdjust="spacingAndGlyphs">Colony types</text>
<text transform="translate(67.60,492.60) rotate(-45)" font-size="12.6" text-anchor="end">CFU-M</text>
<text transform="translate(96.80,492.60) rotate(-45)" font-size="12.6" text-anchor="end">CFU-Mmix</text>
<text transform="translate(125.10,492.60) rotate(-45)" font-size="12.6" text-anchor="end">BFU-E</text>
<text transform="translate(154.60,492.60) rotate(-45)" font-size="12.6" text-anchor="end">CFU-Emix</text>
<text transform="translate(182.45,492.60) rotate(-45)" font-size="12.6" text-anchor="end">CFU-E</text>
<text transform="translate(260.40,491.50) rotate(-45)" font-size="12.6" text-anchor="end">CFU-M</text>
<text transform="translate(289.80,491.50) rotate(-45)" font-size="12.6" text-anchor="end">CFU-Mmix</text>
<text transform="translate(318.40,491.50) rotate(-45)" font-size="12.6" text-anchor="end">BFU-E</text>
<text transform="translate(347.60,491.50) rotate(-45)" font-size="12.6" text-anchor="end">CFU-Emix</text>
<text transform="translate(375.90,491.50) rotate(-45)" font-size="12.6" text-anchor="end">CFU-E</text>
</g></svg>
</body></html>
